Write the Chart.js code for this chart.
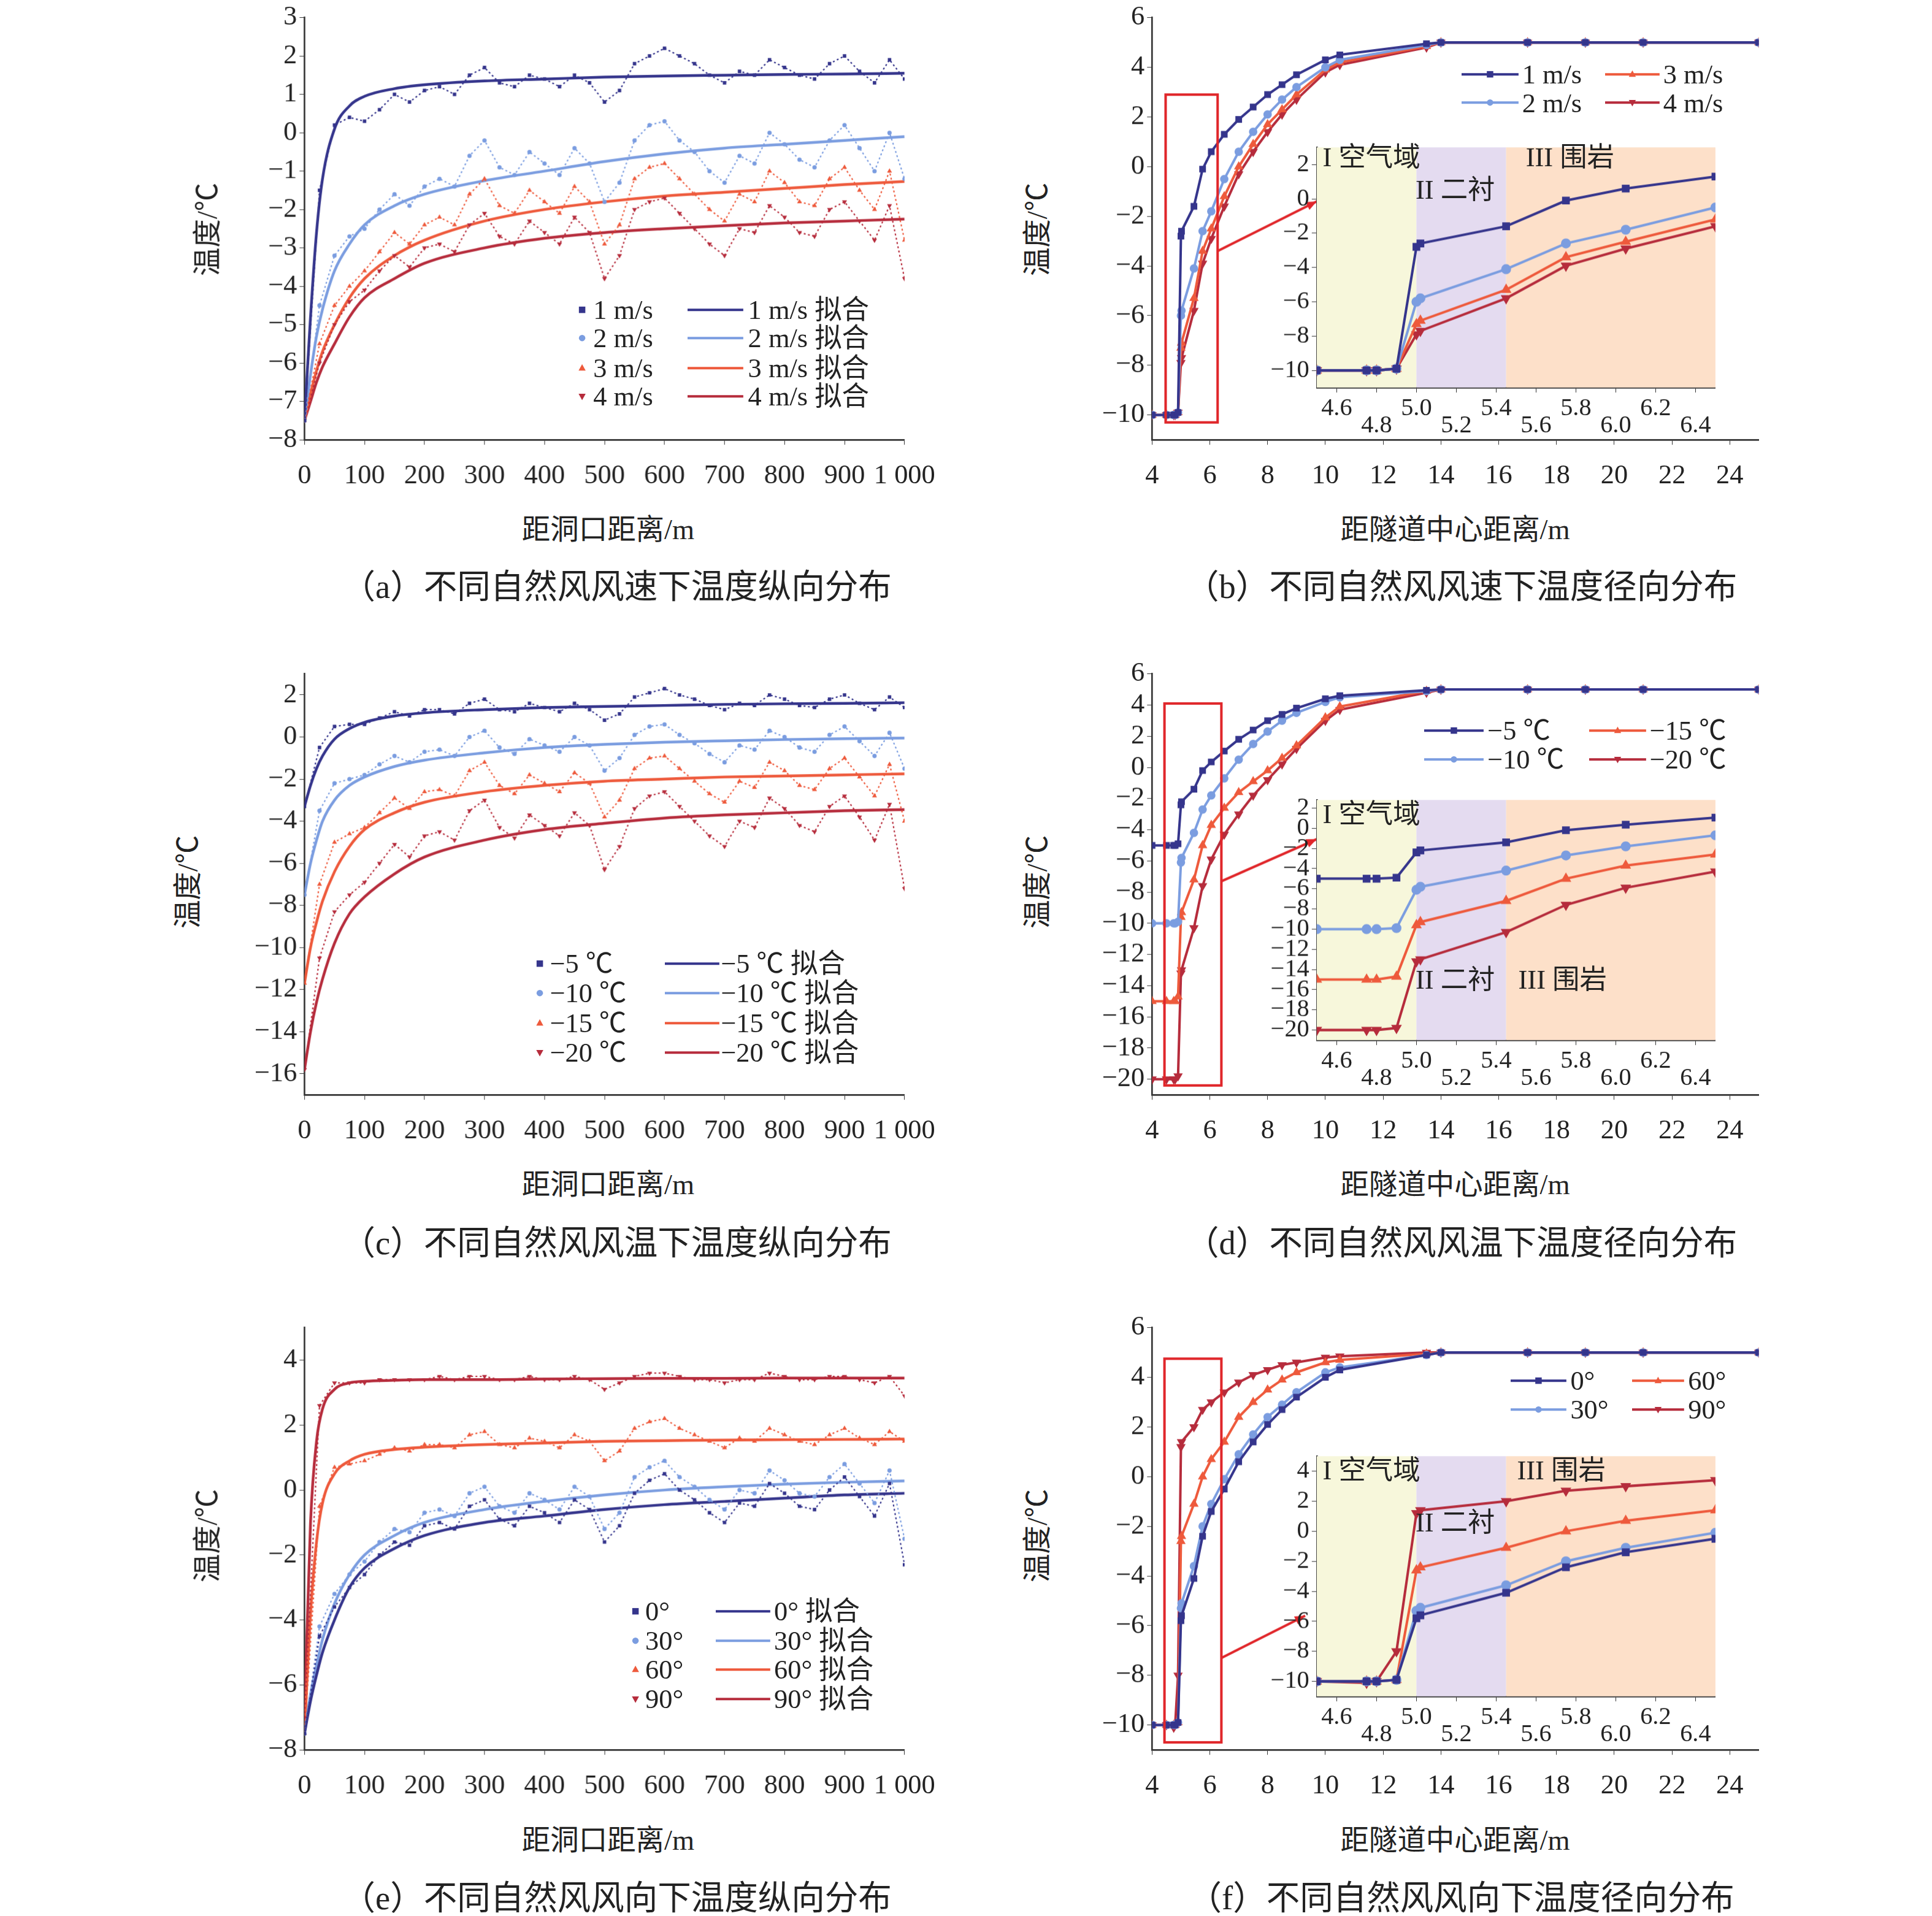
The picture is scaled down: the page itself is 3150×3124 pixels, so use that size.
<!DOCTYPE html>
<html><head><meta charset="utf-8">
<script src="https://cdn.jsdelivr.net/npm/chart.js@4"></script>
<style>
body{margin:0;width:3150px;height:3124px;background:#fff;position:relative;overflow:hidden;font-family:"Liberation Serif","Noto Sans CJK SC",serif}
.t{position:absolute;white-space:nowrap;color:#222;line-height:1}
canvas{position:absolute}
</style></head><body>
<script>
const S = 3150 / 1560;
const FONT = '"Liberation Serif","Noto Sans CJK SC",serif';
const COL = { navy: '#35358c', blue: '#7b9de0', orange: '#ee5a3c', red: '#b62c3c' };
const SHAPES = ['rect', 'circle', 'triangle', 'triangle'];
const ROT = [0, 0, 0, 180];
const COLORS = [COL.navy, COL.blue, COL.orange, COL.red];
const minus = v => String(v).replace('-', '−');

// ---- data ----
const FITX = [0, 10, 20, 30, 50, 75, 100, 150, 200, 300, 400, 500, 600, 700, 800, 900, 1000];
const longData = {
  a: {
    names: ['1 m/s', '2 m/s', '3 m/s', '4 m/s'],
    fit: [
      [-7.5, -4.8, -2.6, -1.2, 0.1, 0.7, 0.95, 1.15, 1.25, 1.35, 1.4, 1.45, 1.48, 1.5, 1.52, 1.53, 1.55],
      [-7.5, -6.3, -5.3, -4.6, -3.6, -2.9, -2.4, -1.9, -1.6, -1.25, -1.0, -0.75, -0.55, -0.4, -0.3, -0.2, -0.1],
      [-7.5, -6.8, -6.2, -5.7, -5.0, -4.3, -3.8, -3.2, -2.8, -2.3, -2.0, -1.8, -1.65, -1.55, -1.45, -1.35, -1.27],
      [-7.5, -7.0, -6.5, -6.1, -5.5, -4.8, -4.3, -3.8, -3.4, -3.0, -2.75, -2.6, -2.5, -2.42, -2.35, -2.3, -2.25]
    ],
    raw: [
      [-7.5, -1.5, 0.2, 0.4, 0.3, 0.6, 1.0, 0.8, 1.1, 1.2, 1.0, 1.5, 1.7, 1.3, 1.2, 1.5, 1.4, 1.2, 1.5, 1.3, 0.8, 1.1, 1.8, 2.0, 2.2, 2.0, 1.8, 1.5, 1.3, 1.6, 1.5, 1.9, 1.7, 1.5, 1.4, 1.8, 2.0, 1.6, 1.3, 1.9, 1.4],
      [-7.5, -4.5, -3.2, -2.7, -2.5, -2.0, -1.6, -1.9, -1.4, -1.2, -1.4, -0.6, -0.2, -0.9, -1.1, -0.5, -0.8, -1.1, -0.4, -0.8, -1.8, -1.3, -0.2, 0.2, 0.3, -0.2, -0.5, -1.0, -1.3, -0.6, -0.8, 0.0, -0.3, -0.7, -0.9, -0.2, 0.2, -0.4, -1.0, 0.0, -1.2],
      [-7.5, -5.5, -4.5, -4.0, -3.6, -3.1, -2.6, -2.9, -2.4, -2.2, -2.4, -1.6, -1.2, -1.9, -2.1, -1.5, -1.8, -2.1, -1.4, -1.8, -2.9, -2.4, -1.2, -0.9, -0.8, -1.2, -1.6, -2.0, -2.3, -1.6, -1.8, -1.0, -1.3, -1.8, -1.9, -1.2, -0.9, -1.5, -2.0, -1.0, -2.8],
      [-7.5, -6.0, -5.0, -4.4, -4.1, -3.6, -3.2, -3.5, -3.0, -2.9, -3.1, -2.4, -2.1, -2.7, -2.9, -2.3, -2.6, -2.9, -2.2, -2.6, -3.8, -3.2, -2.0, -1.8, -1.7, -2.1, -2.5, -2.9, -3.2, -2.5, -2.6, -1.9, -2.2, -2.6, -2.7, -2.0, -1.8, -2.3, -2.8, -1.9, -3.8]
    ]
  },
  c: {
    names: ['−5 ℃', '−10 ℃', '−15 ℃', '−20 ℃'],
    fit: [
      [-3.3, -2.3, -1.5, -0.9, -0.1, 0.4, 0.7, 1.0, 1.15, 1.3, 1.4, 1.45, 1.5, 1.55, 1.58, 1.6, 1.63],
      [-7.5, -6.0, -4.9, -4.0, -3.0, -2.3, -1.9, -1.4, -1.1, -0.75, -0.5, -0.35, -0.25, -0.18, -0.12, -0.08, -0.05],
      [-11.7, -10.0, -8.8, -7.8, -6.4, -5.2, -4.4, -3.6, -3.1, -2.6, -2.3, -2.1, -2.0, -1.9, -1.85, -1.8, -1.75],
      [-15.8, -14.0, -12.6, -11.5, -9.8, -8.4, -7.6, -6.5, -5.7, -4.9, -4.4, -4.1, -3.85, -3.7, -3.6, -3.5, -3.45]
    ],
    raw: [
      [-3.3, -0.5, 0.5, 0.6, 0.6, 0.9, 1.2, 1.0, 1.3, 1.3, 1.1, 1.6, 1.8, 1.3, 1.2, 1.6, 1.4, 1.2, 1.6, 1.3, 0.8, 1.1, 1.9, 2.1, 2.3, 2.0, 1.8, 1.5, 1.3, 1.6, 1.5, 2.0, 1.8, 1.5, 1.4, 1.8, 2.0, 1.6, 1.3, 1.9, 1.4],
      [-7.5, -3.5, -2.2, -2.0, -1.8, -1.3, -0.9, -1.2, -0.7, -0.6, -0.9, 0.0, 0.3, -0.5, -0.8, -0.1, -0.4, -0.7, 0.0, -0.4, -1.6, -1.0, 0.1, 0.5, 0.6, 0.1, -0.3, -0.8, -1.2, -0.4, -0.6, 0.3, 0.0, -0.5, -0.7, 0.1, 0.5, -0.2, -0.9, 0.2, -1.5],
      [-11.7, -7.0, -5.0, -4.6, -4.3, -3.6, -2.9, -3.4, -2.6, -2.5, -2.8, -1.6, -1.2, -2.3, -2.7, -1.8, -2.2, -2.6, -1.7, -2.2, -3.8, -3.0, -1.5, -1.0, -0.9, -1.5, -2.1, -2.7, -3.1, -2.1, -2.4, -1.2, -1.6, -2.3, -2.5, -1.5, -1.0, -1.9, -2.8, -1.3, -4.0],
      [-15.8, -10.5, -8.3, -7.5, -6.9, -6.0, -5.1, -5.7, -4.7, -4.5, -4.9, -3.5, -3.0, -4.3, -4.8, -3.7, -4.2, -4.7, -3.6, -4.2, -6.3, -5.2, -3.4, -2.8, -2.6, -3.3, -4.0, -4.7, -5.2, -4.0, -4.3, -2.9, -3.4, -4.2, -4.5, -3.3, -2.8, -3.8, -4.9, -3.2, -7.2]
    ]
  },
  e: {
    names: ['0°', '30°', '60°', '90°'],
    fit: [
      [-7.5, -6.5, -5.7, -5.0, -4.0, -3.0, -2.4, -1.8, -1.4, -1.0, -0.8, -0.6, -0.45, -0.35, -0.25, -0.15, -0.1],
      [-7.5, -6.3, -5.4, -4.6, -3.5, -2.6, -2.0, -1.4, -1.0, -0.6, -0.35, -0.15, 0.0, 0.1, 0.18, 0.24, 0.28],
      [-7.5, -3.8, -1.6, -0.4, 0.5, 0.9, 1.1, 1.25, 1.32, 1.4, 1.45, 1.5, 1.52, 1.54, 1.55, 1.56, 1.57],
      [-7.0, -1.0, 1.5, 2.5, 3.1, 3.3, 3.35, 3.38, 3.4, 3.4, 3.42, 3.43, 3.44, 3.44, 3.45, 3.45, 3.45]
    ],
    raw: [
      [-7.5, -4.5, -3.6, -3.0, -2.6, -2.0, -1.6, -1.7, -1.1, -1.0, -1.2, -0.5, -0.3, -0.9, -1.1, -0.5, -0.7, -1.0, -0.3, -0.6, -1.6, -1.1, -0.1, 0.3, 0.5, 0.0, -0.3, -0.7, -1.0, -0.4, -0.5, 0.2, -0.1, -0.5, -0.6, 0.0, 0.4, -0.2, -0.8, 0.2, -2.3],
      [-7.5, -4.2, -3.2, -2.6, -2.2, -1.6, -1.2, -1.3, -0.7, -0.6, -0.8, -0.1, 0.1, -0.5, -0.7, -0.1, -0.3, -0.6, 0.1, -0.2, -1.2, -0.7, 0.4, 0.7, 0.9, 0.4, 0.1, -0.3, -0.6, 0.0, -0.1, 0.6, 0.3, -0.1, -0.2, 0.4, 0.8, 0.2, -0.4, 0.6, -1.5],
      [-7.5, -0.5, 0.7, 0.8, 0.9, 1.1, 1.3, 1.2, 1.4, 1.4, 1.3, 1.7, 1.8, 1.4, 1.3, 1.6, 1.5, 1.3, 1.7, 1.5, 0.9, 1.2, 1.9, 2.1, 2.2, 1.9, 1.7, 1.5, 1.3, 1.6, 1.5, 1.9, 1.7, 1.5, 1.4, 1.7, 1.9, 1.6, 1.4, 1.8, 1.5],
      [-7.0, 2.6, 3.3, 3.3, 3.3, 3.4, 3.4, 3.4, 3.4, 3.5, 3.4, 3.5, 3.5, 3.4, 3.4, 3.5, 3.4, 3.4, 3.5, 3.4, 3.1, 3.3, 3.5, 3.6, 3.6, 3.5, 3.4, 3.4, 3.3, 3.4, 3.4, 3.6, 3.5, 3.4, 3.4, 3.5, 3.5, 3.4, 3.3, 3.5, 2.9]
    ]
  }
};

const RX = [4, 4.5, 4.75, 4.8, 4.9, 5.0, 5.02, 5.45, 5.75, 6.05, 6.5, 7, 7.5, 8, 8.5, 9, 10, 10.5, 13.5, 14, 17, 19, 21, 25];
const radData = {
  b: {
    names: ['1 m/s', '2 m/s', '3 m/s', '4 m/s'],
    y: [
      [-10, -10, -10, -10, -9.9, -2.8, -2.6, -1.6, -0.1, 0.6, 1.3, 1.9, 2.4, 2.9, 3.3, 3.7, 4.3, 4.5, 4.95, 5, 5, 5, 5, 5],
      [-10, -10, -10, -10, -9.9, -6.0, -5.8, -4.1, -2.6, -1.8, -0.5, 0.6, 1.4, 2.1, 2.7, 3.2, 4.0, 4.3, 4.9, 5, 5, 5, 5, 5],
      [-10, -10, -10, -10, -9.9, -7.3, -7.1, -5.3, -3.4, -2.5, -1.2, 0.0, 0.9, 1.7, 2.3, 2.9, 3.9, 4.2, 4.85, 5, 5, 5, 5, 5],
      [-10, -10, -10, -10, -9.9, -7.9, -7.7, -5.8, -3.9, -2.9, -1.6, -0.3, 0.6, 1.4, 2.1, 2.7, 3.8, 4.1, 4.8, 5, 5, 5, 5, 5]
    ]
  },
  d: {
    names: ['−5 ℃', '−10 ℃', '−15 ℃', '−20 ℃'],
    y: [
      [-5, -5, -5, -5, -4.9, -2.4, -2.2, -1.4, -0.2, 0.35, 1.05, 1.8, 2.4, 3.0, 3.4, 3.8, 4.4, 4.6, 4.95, 5, 5, 5, 5, 5],
      [-10, -10, -10, -10, -9.9, -6.1, -5.8, -4.2, -2.7, -1.8, -0.7, 0.5, 1.5, 2.3, 3.0, 3.5, 4.2, 4.5, 4.9, 5, 5, 5, 5, 5],
      [-15, -15, -15, -15, -14.7, -9.6, -9.3, -7.2, -5.0, -3.7, -2.6, -1.6, -0.9, -0.2, 0.6, 1.4, 3.2, 3.9, 4.9, 5, 5, 5, 5, 5],
      [-20, -20, -20, -20, -19.8, -13.2, -13.0, -10.3, -7.6, -5.9, -4.3, -3.0, -1.8, -0.8, 0.2, 1.2, 3.0, 3.7, 4.8, 5, 5, 5, 5, 5]
    ]
  },
  f: {
    names: ['0°', '30°', '60°', '90°'],
    y: [
      [-10, -10, -10, -10, -9.9, -5.8, -5.6, -4.1, -2.4, -1.4, -0.5, 0.6, 1.4, 2.1, 2.7, 3.2, 4.0, 4.3, 4.9, 5, 5, 5, 5, 5],
      [-10, -10, -10, -10, -9.9, -5.3, -5.1, -3.6, -2.0, -1.1, -0.1, 0.9, 1.7, 2.4, 2.9, 3.4, 4.2, 4.4, 4.9, 5, 5, 5, 5, 5],
      [-10, -10, -10, -10, -9.9, -2.6, -2.4, -1.1, 0.0, 0.7, 1.4, 2.4, 3.0, 3.5, 3.9, 4.2, 4.6, 4.7, 4.95, 5, 5, 5, 5, 5],
      [-10, -10, -10.1, -10, -8.0, 1.2, 1.4, 2.0, 2.7, 3.0, 3.4, 3.8, 4.1, 4.3, 4.5, 4.6, 4.8, 4.85, 5, 5, 5, 5, 5, 5]
    ]
  }
};

// ---- helpers ----
function text(x, y, str, size, opts = {}) {
  const d = document.createElement('div');
  d.className = 't';
  d.textContent = str;
  d.style.fontSize = size * S + 'px';
  d.style.left = x * S + 'px';
  d.style.top = y * S + 'px';
  let tr = 'translate(' + (opts.anchor === 'left' ? '0' : '-50%') + ',-50%)';
  if (opts.rot) tr += ' rotate(-90deg)';
  d.style.transform = tr;
  document.body.appendChild(d);
}

function markerSvg(i, cx, cy, r) {
  const c = COLORS[i];
  if (i === 0) return `<rect x="${cx - r}" y="${cy - r}" width="${2 * r}" height="${2 * r}" fill="${c}"/>`;
  if (i === 1) return `<circle cx="${cx}" cy="${cy}" r="${r}" fill="${c}"/>`;
  if (i === 2) return `<polygon points="${cx},${cy - r * 1.2} ${cx - r * 1.1},${cy + r * 0.8} ${cx + r * 1.1},${cy + r * 0.8}" fill="${c}"/>`;
  return `<polygon points="${cx},${cy + r * 1.2} ${cx - r * 1.1},${cy - r * 0.8} ${cx + r * 1.1},${cy - r * 0.8}" fill="${c}"/>`;
}

function legendSym(x, y, w, i, withLine, withMarker) {
  const W = w * S, H = 16 * S;
  let svg = `<svg width="${W}" height="${H}" style="position:absolute;left:${x * S}px;top:${y * S - H / 2}px">`;
  if (withLine) svg += `<line x1="0" y1="${H / 2}" x2="${W}" y2="${H / 2}" stroke="${COLORS[i]}" stroke-width="${2 * S}"/>`;
  if (withMarker) svg += markerSvg(i, W / 2, H / 2, 2.6 * S);
  svg += '</svg>';
  document.body.insertAdjacentHTML('beforeend', svg);
}

function placeCanvas(box, m) {
  const [L, T, R, B] = box;
  const cv = document.createElement('canvas');
  const w = (R - L + m.l + m.r) * S, h = (B - T + m.t + m.b) * S;
  cv.width = w; cv.height = h;
  cv.style.left = (L - m.l) * S + 'px';
  cv.style.top = (T - m.t) * S + 'px';
  cv.style.width = w + 'px'; cv.style.height = h + 'px';
  document.body.appendChild(cv);
  return cv;
}

function axis(min, max, ticks, fmt, fitSize, isX, fontSize, multi, pad) {
  return {
    type: 'linear', min, max,
    afterBuildTicks: s => { s.ticks = ticks.map(v => ({ value: v })); },
    afterFit: s => { if (isX) s.height = fitSize * S; else s.width = fitSize * S; },
    border: { color: '#333', width: 1.3 * S },
    grid: { drawOnChartArea: false, drawTicks: true, tickLength: 4 * S, color: '#333' },
    ticks: {
      color: '#222', font: { family: FONT, size: fontSize * S, lineHeight: multi ? 0.7 : 1.2 },
      padding: (pad || 2) * S,
      maxRotation: 0, autoSkip: false,
      callback: (v, idx) => {
        const s = fmt ? fmt(v) : minus(v);
        return multi && idx % 2 === 1 ? ['', s] : s;
      }
    }
  };
}

const range = (a, b, st) => { const r = []; for (let v = a; v <= b + 1e-9; v += st) r.push(+v.toFixed(3)); return r; };

const overlay = (rect, arrow) => ({
  id: 'overlay',
  afterDatasetsDraw(chart) {
    const { ctx, scales: { x, y } } = chart;
    ctx.save();
    ctx.strokeStyle = '#e0262a';
    ctx.lineWidth = 2 * S;
    ctx.strokeRect(x.getPixelForValue(rect[0]), y.getPixelForValue(rect[3]),
      x.getPixelForValue(rect[1]) - x.getPixelForValue(rect[0]),
      y.getPixelForValue(rect[2]) - y.getPixelForValue(rect[3]));
    const x1 = x.getPixelForValue(arrow[0]), y1 = y.getPixelForValue(arrow[1]);
    const x2 = x.getPixelForValue(arrow[2]), y2 = y.getPixelForValue(arrow[3]);
    ctx.beginPath(); ctx.moveTo(x1, y1); ctx.lineTo(x2, y2); ctx.stroke();
    const a = Math.atan2(y2 - y1, x2 - x1), hl = 9 * S;
    ctx.fillStyle = '#e0262a';
    ctx.beginPath();
    ctx.moveTo(x2, y2);
    ctx.lineTo(x2 - hl * Math.cos(a - 0.4), y2 - hl * Math.sin(a - 0.4));
    ctx.lineTo(x2 - hl * Math.cos(a + 0.4), y2 - hl * Math.sin(a + 0.4));
    ctx.closePath(); ctx.fill();
    ctx.restore();
  }
});

const bands = {
  id: 'bands',
  beforeDatasetsDraw(chart) {
    const { ctx, chartArea: a, scales: { x } } = chart;
    const zones = [[4.5, 5.0, '#f7f7db'], [5.0, 5.45, '#e4dbf0'], [5.45, 6.5, '#fde0c9']];
    ctx.save();
    zones.forEach(([x0, x1, c]) => {
      ctx.fillStyle = c;
      const p0 = Math.max(a.left, x.getPixelForValue(x0)), p1 = Math.min(a.right, x.getPixelForValue(x1));
      ctx.fillRect(p0, a.top, p1 - p0, a.bottom - a.top);
    });
    ctx.restore();
  }
};

// ---- longitudinal panels ----
function longPanel(key, box, ymin, ymax, yticks) {
  const d = longData[key];
  const datasets = [];
  d.raw.forEach((arr, i) => datasets.push({
    data: arr.map((v, j) => ({ x: j * 25, y: v })),
    borderColor: COLORS[i], backgroundColor: COLORS[i], borderWidth: 1.1 * S,
    borderDash: [1.5 * S, 2 * S], pointRadius: 1.2 * S, pointStyle: SHAPES[i], rotation: ROT[i], tension: 0
  }));
  d.fit.forEach((arr, i) => datasets.push({
    data: arr.map((v, j) => ({ x: FITX[j], y: v })),
    borderColor: COLORS[i], borderWidth: 2.2 * S, pointRadius: 0, cubicInterpolationMode: 'monotone'
  }));
  new Chart(placeCanvas(box, { l: 70, r: 30, t: 14, b: 45 }), {
    type: 'line',
    data: { datasets },
    options: {
      responsive: false, animation: false, devicePixelRatio: 1,
      layout: { padding: { top: 14 * S, right: 30 * S } },
      plugins: { legend: { display: false }, tooltip: { enabled: false } },
      scales: {
        x: axis(0, 1000, range(0, 1000, 100), v => v === 1000 ? '1 000' : String(v), 45, true, 22, false, 12),
        y: axis(ymin, ymax, yticks, null, 70, false, 22)
      }
    }
  });
}

function radSets(key, r) {
  return radData[key].y.map((arr, i) => ({
    data: arr.map((v, j) => ({ x: RX[j], y: v })),
    borderColor: COLORS[i], backgroundColor: COLORS[i], borderWidth: 2 * S,
    pointRadius: r * S, pointStyle: SHAPES[i], rotation: ROT[i], tension: 0
  }));
}

function radPanel(key, box, ymin, ymax, yticks, rect, arrow, ibox, iymin, iymax, iyticks) {
  new Chart(placeCanvas(box, { l: 70, r: 30, t: 14, b: 45 }), {
    type: 'line',
    data: { datasets: radSets(key, 2.4) },
    options: {
      responsive: false, animation: false, devicePixelRatio: 1,
      layout: { padding: { top: 14 * S, right: 30 * S } },
      plugins: { legend: { display: false }, tooltip: { enabled: false } },
      scales: {
        x: axis(4, 25, range(4, 24, 2), null, 45, true, 22, false, 12),
        y: axis(ymin, ymax, yticks, null, 70, false, 22)
      }
    },
    plugins: [overlay(rect, arrow)]
  });
  new Chart(placeCanvas(ibox, { l: 46, r: 6, t: 8, b: 50 }), {
    type: 'line',
    data: { datasets: radSets(key, 3) },
    options: {
      responsive: false, animation: false, devicePixelRatio: 1,
      layout: { padding: { top: 8 * S, right: 6 * S } },
      plugins: { legend: { display: false }, tooltip: { enabled: false } },
      scales: {
        x: axis(4.5, 6.5, range(4.6, 6.4, 0.2), v => v.toFixed(1), 50, true, 20, true, 6),
        y: axis(iymin, iymax, iyticks, null, 46, false, 20)
      }
    },
    plugins: [bands]
  });
}

longPanel('a', [246, 13, 737, 355], -8, 3, range(-8, 3, 1));
longPanel('c', [246, 543, 737, 884], -17, 3, range(-16, 2, 2));
longPanel('e', [246, 1071, 737, 1413], -8, 5, range(-8, 4, 2));

radPanel('b', [930, 13, 1420, 355], -11, 6, range(-10, 6, 2), [4.47, 6.27, -10.3, 2.9], [6.27, -3.4, 9.7, -1.4],
  [1063, 113, 1385, 313], -11, 3, range(-10, 2, 2));
radPanel('d', [930, 543, 1420, 884], -21, 6, range(-20, 6, 2), [4.43, 6.4, -20.4, 4.1], [6.4, -7.3, 9.7, -4.6],
  [1063, 640, 1385, 840], -21, 2.8, range(-20, 2, 2));
radPanel('f', [930, 1071, 1420, 1413], -11, 6, range(-10, 6, 2), [4.43, 6.4, -10.7, 4.75], [6.4, -7.3, 9.3, -5.6],
  [1063, 1170, 1385, 1370], -11, 5, range(-10, 4, 2));

// ---- axis titles, captions ----
[['a', 491, 428, 168, 185, '（a）不同自然风风速下温度纵向分布', 498, 474, '距洞口距离/m'],
 ['b', 1175, 428, 838, 185, '（b）不同自然风风速下温度径向分布', 1180, 474, '距隧道中心距离/m'],
 ['c', 491, 957, 152, 712, '（c）不同自然风风温下温度纵向分布', 498, 1004, '距洞口距离/m'],
 ['d', 1175, 957, 838, 712, '（d）不同自然风风温下温度径向分布', 1180, 1004, '距隧道中心距离/m'],
 ['e', 491, 1486, 168, 1240, '（e）不同自然风风向下温度纵向分布', 498, 1533, '距洞口距离/m'],
 ['f', 1175, 1486, 838, 1240, '（f）不同自然风风向下温度径向分布', 1180, 1533, '距隧道中心距离/m']
].forEach(([k, xx, xy, yx, yy, cap, cx, cy, xt]) => {
  text(xx, xy, xt, 23);
  text(yx, yy, '温度/℃', 23, { rot: true });
  text(cx, cy, cap, 27);
});

// ---- legends ----
function longLegend(key, rows, mx, tx, lx, lw, ftx) {
  const n = longData[key].names;
  rows.forEach((y, i) => {
    legendSym(mx - 5, y, 10, i, false, true);
    text(tx, y, n[i], 22, { anchor: 'left' });
    legendSym(lx, y, lw, i, true, false);
    text(ftx, y, n[i] + ' 拟合', 22, { anchor: 'left' });
  });
}
longLegend('a', [250, 273, 297, 320], 470, 479, 555, 45, 604);
longLegend('c', [778, 802, 826, 850], 436, 444, 537, 44, 582);
longLegend('e', [1301, 1325, 1348, 1372], 513, 521, 578, 44, 625);

function radLegend(key, rows, c1, c2) {
  const n = radData[key].names;
  [[0, c1, rows[0]], [2, c2, rows[0]], [1, c1, rows[1]], [3, c2, rows[1]]].forEach(([i, c, y]) => {
    legendSym(c[0], y, c[1], i, true, true);
    text(c[0] + c[1] + 3, y, n[i], 22, { anchor: 'left' });
  });
}
radLegend('b', [60, 83], [1180, 46], [1296, 44]);
radLegend('d', [590, 613], [1150, 48], [1283, 46]);
radLegend('f', [1115, 1138], [1220, 45], [1318, 42]);

// ---- zone labels in insets ----
text(1068, 127, 'I 空气域', 22, { anchor: 'left' });
text(1143, 153, 'II 二衬', 22, { anchor: 'left' });
text(1232, 127, 'III 围岩', 22, { anchor: 'left' });
text(1068, 657, 'I 空气域', 22, { anchor: 'left' });
text(1143, 791, 'II 二衬', 22, { anchor: 'left' });
text(1226, 791, 'III 围岩', 22, { anchor: 'left' });
text(1068, 1187, 'I 空气域', 22, { anchor: 'left' });
text(1143, 1229, 'II 二衬', 22, { anchor: 'left' });
text(1225, 1187, 'III 围岩', 22, { anchor: 'left' });
</script>
</body></html>
